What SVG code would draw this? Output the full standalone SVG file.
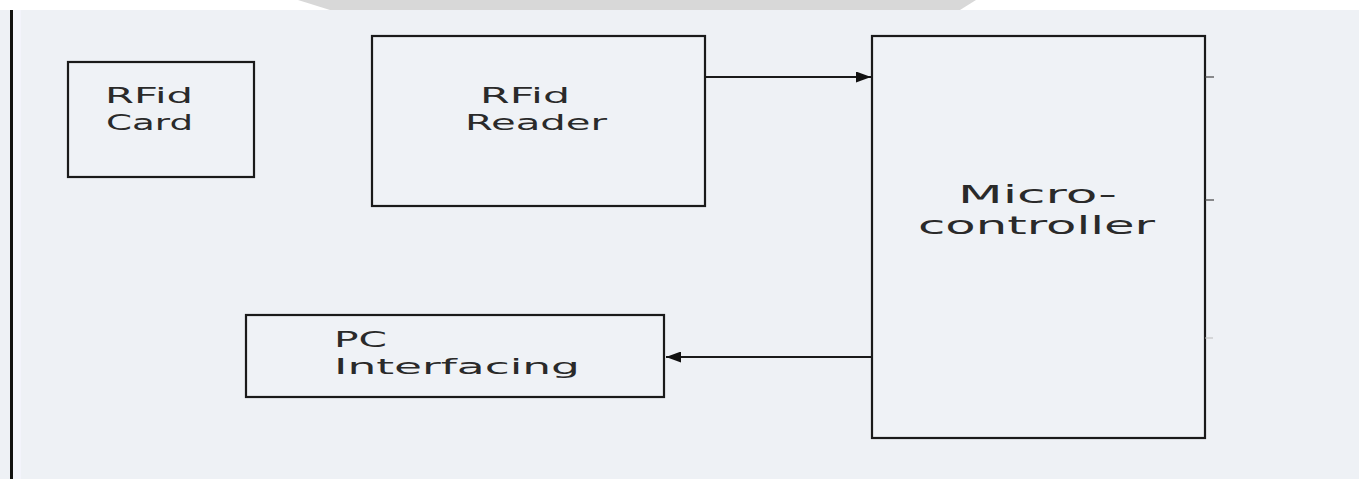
<svg xmlns="http://www.w3.org/2000/svg" width="1359" height="479" viewBox="0 0 1359 479">
  <style>
    .box { fill: #eff2f6; stroke: #1a1a1a; stroke-width: 2.2; }
    .lbl { font-family: "DejaVu Sans", "Liberation Sans", sans-serif; fill: #2a2a2a; }
    .conn { stroke: #1a1a1a; stroke-width: 1.8; fill: none; }
    .tick { stroke: #444; stroke-width: 1.2; }
  </style>
  <defs>
    <marker id="arrow" viewBox="0 0 15 11" refX="15" refY="5.5" markerWidth="15" markerHeight="11" markerUnits="userSpaceOnUse" orient="auto">
      <path d="M0,0 L15,5.5 L0,11 Z" fill="#111"/>
    </marker>
  </defs>

  <!-- background -->
  <rect x="0" y="0" width="1359" height="479" fill="#eef1f5"/>
  <rect x="0" y="0" width="1359" height="10" fill="#ffffff"/>
  <polygon points="298,0 976,0 960,10 330,10" fill="#d8d8d8"/>
  <rect x="10" y="10" width="3" height="469" fill="#111"/>
  <rect x="13" y="10" width="8" height="469" fill="#f3f4fb"/>

  <g id="rfid-card">
    <rect class="box" x="68" y="62" width="186" height="115"/>
    <text class="lbl" x="105" y="103" font-size="22" textLength="88" lengthAdjust="spacingAndGlyphs">RFid</text>
    <text class="lbl" x="106" y="130" font-size="22" textLength="87" lengthAdjust="spacingAndGlyphs">Card</text>
  </g>

  <g id="rfid-reader">
    <rect class="box" x="372" y="36" width="333" height="170"/>
    <text class="lbl" x="480" y="103" font-size="22" textLength="90" lengthAdjust="spacingAndGlyphs">RFid</text>
    <text class="lbl" x="465" y="130" font-size="22" textLength="142" lengthAdjust="spacingAndGlyphs">Reader</text>
  </g>

  <g id="microcontroller">
    <rect class="box" x="872" y="36" width="333" height="402"/>
    <text class="lbl" x="958" y="203" font-size="25" textLength="159" lengthAdjust="spacingAndGlyphs">Micro-</text>
    <text class="lbl" x="918" y="234" font-size="25" textLength="237" lengthAdjust="spacingAndGlyphs">controller</text>
    <line class="tick" x1="1205" y1="77" x2="1214" y2="77"/>
    <line class="tick" x1="1205" y1="200" x2="1214" y2="200"/>
    <line x1="1205" y1="338" x2="1213" y2="338" stroke="#bbb" stroke-width="1"/>
  </g>

  <g id="pc-interfacing">
    <rect class="box" x="246" y="315" width="418" height="82"/>
    <text class="lbl" x="334" y="347" font-size="21" textLength="53" lengthAdjust="spacingAndGlyphs">PC</text>
    <text class="lbl" x="334" y="374" font-size="21" textLength="246" lengthAdjust="spacingAndGlyphs">Interfacing</text>
  </g>

  <g id="connectors">
    <line class="conn" x1="705" y1="77" x2="871" y2="77" marker-end="url(#arrow)"/>
    <line class="conn" x1="872" y1="357" x2="666" y2="357" marker-end="url(#arrow)"/>
  </g>
</svg>
